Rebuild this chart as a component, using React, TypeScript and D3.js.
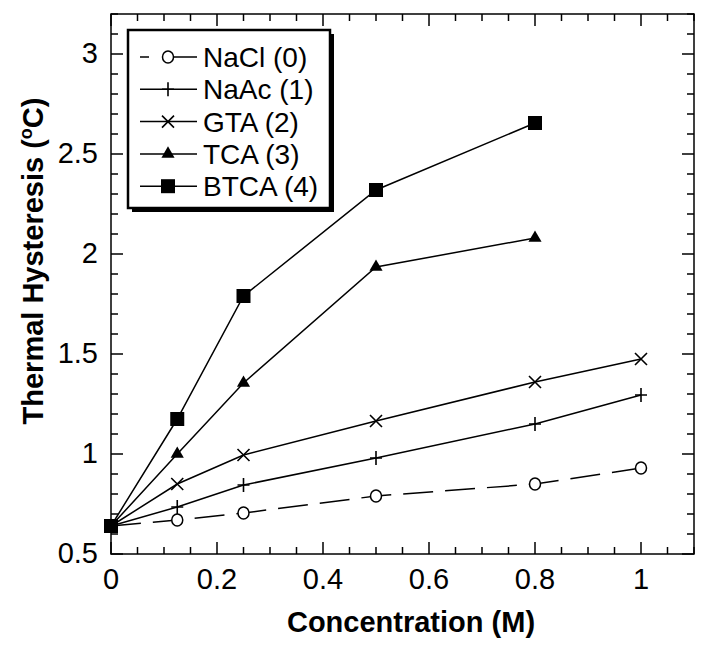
import React, { useEffect, useRef } from 'react';
import * as d3 from 'd3';

// concentration (M)
const concentrations = [0, 0.125, 0.25, 0.5, 0.8, 1.0];

const seriesNames = ['NaCl (0)', 'NaAc (1)', 'GTA (2)', 'TCA (3)', 'BTCA (4)'];
const markerKinds = ['circle', 'plus', 'cross', 'triangle', 'square'];

// thermal hysteresis (°C), null = not measured
const naclValues = [0.64, 0.67, 0.705, 0.79, 0.85, 0.93];
const naacValues = [0.64, 0.735, 0.845, 0.98, 1.15, 1.295];
const gtaValues = [0.64, 0.85, 0.995, 1.165, 1.36, 1.475];
const tcaValues = [0.64, 1.0, 1.355, 1.935, 2.08, null];
const btcaValues = [0.64, 1.175, 1.79, 2.32, 2.655, null];

const allValues = [naclValues, naacValues, gtaValues, tcaValues, btcaValues];

const xMajorTicks = [0, 0.2, 0.4, 0.6, 0.8, 1];
const yMajorTicks = [0.5, 1, 1.5, 2, 2.5, 3];

const FONT = "'Liberation Sans', Arial, Helvetica, sans-serif";

const App = () => {
    const svgRef = useRef(null);

    useEffect(() => {
        const width = 705;
        const height = 651;
        const left = 111, right = 694, top = 14, bottom = 554;

        const svg = d3.select(svgRef.current);
        svg.selectAll('*').remove();
        svg.attr('width', width).attr('height', height);

        const x = d3.scaleLinear().domain([0, 1.1]).range([left, right]);
        const y = d3.scaleLinear().domain([0.5, 3.2]).range([bottom, top]);

        const g = svg.append('g');

        // ticks on all four sides, pointing inward
        const xMinor = d3.range(0, 1.1001, 0.05);
        const yMinor = d3.range(0.5, 3.2001, 0.1);
        const isMajor = (v, list) => list.some(t => Math.abs(t - v) < 1e-6);

        xMinor.forEach(v => {
            const len = isMajor(v, xMajorTicks) ? 12 : 7;
            g.append('line').attr('x1', x(v)).attr('x2', x(v))
                .attr('y1', bottom).attr('y2', bottom - len)
                .attr('stroke', '#000').attr('stroke-width', 1.5);
            g.append('line').attr('x1', x(v)).attr('x2', x(v))
                .attr('y1', top).attr('y2', top + len)
                .attr('stroke', '#000').attr('stroke-width', 1.5);
        });
        yMinor.forEach(v => {
            const len = isMajor(v, yMajorTicks) ? 12 : 7;
            g.append('line').attr('x1', left).attr('x2', left + len)
                .attr('y1', y(v)).attr('y2', y(v))
                .attr('stroke', '#000').attr('stroke-width', 1.5);
            g.append('line').attr('x1', right).attr('x2', right - len)
                .attr('y1', y(v)).attr('y2', y(v))
                .attr('stroke', '#000').attr('stroke-width', 1.5);
        });

        g.append('rect')
            .attr('x', left).attr('y', top)
            .attr('width', right - left).attr('height', bottom - top)
            .attr('fill', 'none').attr('stroke', '#000').attr('stroke-width', 1.5);

        // tick labels
        g.selectAll('.xlab').data(xMajorTicks).enter().append('text')
            .attr('x', d => x(d)).attr('y', bottom + 35)
            .attr('text-anchor', 'middle')
            .attr('font-family', FONT).attr('font-size', 29)
            .text(d => String(d));

        g.selectAll('.ylab').data(yMajorTicks).enter().append('text')
            .attr('x', left - 13).attr('y', d => y(d) + 9)
            .attr('text-anchor', 'end')
            .attr('font-family', FONT).attr('font-size', 29)
            .text(d => String(d));

        // axis titles
        g.append('text')
            .attr('x', 411).attr('y', 632)
            .attr('text-anchor', 'middle')
            .attr('font-family', FONT).attr('font-size', 29).attr('font-weight', 'bold')
            .text('Concentration (M)');

        const yt = g.append('text')
            .attr('transform', 'translate(43,261) rotate(-90)')
            .attr('text-anchor', 'middle')
            .attr('font-family', FONT).attr('font-size', 29).attr('font-weight', 'bold');
        yt.append('tspan').text('Thermal Hysteresis (');
        yt.append('tspan').attr('font-size', 18).attr('dy', -11).text('o');
        yt.append('tspan').attr('dy', 11).text('C)');

        // marker drawing
        const drawMarker = (sel, kind, cx, cy) => {
            if (kind === 'circle') {
                sel.append('ellipse').attr('cx', cx).attr('cy', cy).attr('rx', 5.5).attr('ry', 6)
                    .attr('fill', '#fff').attr('stroke', '#000').attr('stroke-width', 1.5);
            } else if (kind === 'plus') {
                sel.append('path').attr('d', `M${cx - 6},${cy}H${cx + 6}M${cx},${cy - 7}V${cy + 7}`)
                    .attr('stroke', '#000').attr('stroke-width', 1.6).attr('fill', 'none');
            } else if (kind === 'cross') {
                sel.append('path').attr('d', `M${cx - 6},${cy - 6}L${cx + 6},${cy + 6}M${cx - 6},${cy + 6}L${cx + 6},${cy - 6}`)
                    .attr('stroke', '#000').attr('stroke-width', 1.6).attr('fill', 'none');
            } else if (kind === 'triangle') {
                sel.append('path').attr('d', d3.symbol().type(d3.symbolTriangle).size(75)())
                    .attr('transform', `translate(${cx},${cy})`).attr('fill', '#000');
            } else {
                sel.append('rect').attr('x', cx - 7).attr('y', cy - 7).attr('width', 14).attr('height', 14)
                    .attr('fill', '#000');
            }
        };

        const line = d3.line()
            .defined(d => d[1] != null)
            .x(d => x(d[0]))
            .y(d => y(d[1]));

        allValues.forEach((vals, i) => {
            const pts = concentrations.map((c, j) => [c, vals[j]]).filter(p => p[1] != null);
            g.append('path')
                .attr('d', line(pts))
                .attr('fill', 'none').attr('stroke', '#000').attr('stroke-width', 1.5)
                .attr('stroke-dasharray', i === 0 ? '30,12' : null);
        });
        allValues.forEach((vals, i) => {
            const mg = g.append('g');
            concentrations.forEach((c, j) => {
                if (vals[j] != null) drawMarker(mg, markerKinds[i], x(c), y(vals[j]));
            });
        });

        // legend
        const lx = 128, ly = 30, lw = 202, lh = 178;
        g.append('rect').attr('x', lx + 4).attr('y', ly + 4).attr('width', lw).attr('height', lh)
            .attr('fill', '#000');
        g.append('rect').attr('x', lx).attr('y', ly).attr('width', lw).attr('height', lh)
            .attr('fill', '#fff').attr('stroke', '#000').attr('stroke-width', 2.5);

        seriesNames.forEach((name, i) => {
            const ry = 57 + i * 32.3;
            g.append('line').attr('x1', 197).attr('x2', 140).attr('y1', ry).attr('y2', ry)
                .attr('stroke', '#000').attr('stroke-width', 1.5)
                .attr('stroke-dasharray', i === 0 ? '28,20' : null);
            drawMarker(g, markerKinds[i], 168, ry);
            g.append('text').attr('x', 203).attr('y', ry + 10)
                .attr('font-family', FONT).attr('font-size', 28)
                .text(name);
        });
    }, []);

    return (
        <svg ref={svgRef} style={{ position: 'absolute', left: 0, top: 0, background: '#fff' }}></svg>
    );
};

export default App;
